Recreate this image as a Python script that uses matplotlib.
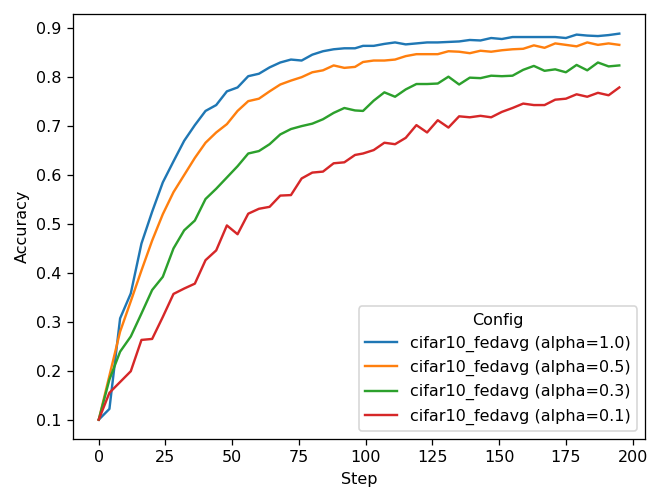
import matplotlib as mpl
import matplotlib.pyplot as plt

mpl.use('Agg')

# Evaluation steps (x axis)
steps = [0, 4, 8, 12, 16, 20, 24, 28, 32, 36,
         40, 44, 48, 52, 56, 60, 64, 68, 72, 76,
         80, 84, 88, 92, 96, 99, 103, 107, 111, 115,
         119, 123, 127, 131, 135, 139, 143, 147, 151, 155,
         159, 163, 167, 171, 175, 179, 183, 187, 191, 195]

# Accuracy per config
acc_alpha_10 = [0.100, 0.122, 0.307, 0.358, 0.460, 0.525, 0.585, 0.628, 0.670, 0.702,
                0.731, 0.743, 0.771, 0.779, 0.802, 0.807, 0.820, 0.830, 0.836, 0.834,
                0.846, 0.853, 0.857, 0.859, 0.859, 0.864, 0.864, 0.868, 0.871, 0.867,
                0.869, 0.871, 0.871, 0.872, 0.873, 0.876, 0.875, 0.880, 0.878, 0.882,
                0.882, 0.882, 0.882, 0.882, 0.880, 0.887, 0.885, 0.884, 0.886, 0.889]

acc_alpha_05 = [0.100, 0.190, 0.280, 0.342, 0.405, 0.466, 0.520, 0.565, 0.600, 0.635,
                0.666, 0.687, 0.704, 0.731, 0.751, 0.756, 0.771, 0.785, 0.793, 0.800,
                0.810, 0.814, 0.824, 0.819, 0.821, 0.831, 0.834, 0.834, 0.836, 0.843,
                0.847, 0.847, 0.847, 0.853, 0.852, 0.849, 0.854, 0.852, 0.855, 0.857,
                0.858, 0.865, 0.860, 0.869, 0.866, 0.863, 0.871, 0.866, 0.869, 0.866]

acc_alpha_03 = [0.100, 0.182, 0.239, 0.270, 0.317, 0.365, 0.392, 0.450, 0.487, 0.507,
                0.551, 0.572, 0.595, 0.618, 0.644, 0.649, 0.663, 0.683, 0.694, 0.700,
                0.705, 0.714, 0.727, 0.737, 0.732, 0.731, 0.752, 0.769, 0.760, 0.775,
                0.786, 0.786, 0.787, 0.801, 0.785, 0.799, 0.798, 0.803, 0.802, 0.803,
                0.815, 0.823, 0.813, 0.816, 0.810, 0.825, 0.814, 0.830, 0.822, 0.824]

acc_alpha_01 = [0.100, 0.155, 0.177, 0.199, 0.263, 0.265, 0.310, 0.357, 0.368, 0.378,
                0.426, 0.446, 0.497, 0.479, 0.521, 0.531, 0.535, 0.558, 0.559, 0.593,
                0.605, 0.607, 0.624, 0.626, 0.641, 0.644, 0.651, 0.666, 0.663, 0.676,
                0.702, 0.687, 0.712, 0.697, 0.720, 0.718, 0.721, 0.718, 0.729, 0.737,
                0.746, 0.743, 0.743, 0.754, 0.756, 0.765, 0.760, 0.768, 0.763, 0.779]

labels = ['cifar10_fedavg (alpha=1.0)', 'cifar10_fedavg (alpha=0.5)',
          'cifar10_fedavg (alpha=0.3)', 'cifar10_fedavg (alpha=0.1)']
series = [acc_alpha_10, acc_alpha_05, acc_alpha_03, acc_alpha_01]

# reference looks like a default figure saved at ~115 dpi and cropped
dpi = 115
fig = plt.figure(figsize=(647 / dpi, 487 / dpi), dpi=dpi)
ax = fig.add_subplot(111)
fig.subplots_adjust(left=0.1124, right=0.9974, bottom=0.0986, top=0.9706)

for vals, lab in zip(series, labels):
    ax.plot(steps, vals, label=lab)

ax.set_xlabel('Step')
ax.set_ylabel('Accuracy')
ax.legend(title='Config', loc='lower right')

fig.savefig('out.png', dpi=dpi)
